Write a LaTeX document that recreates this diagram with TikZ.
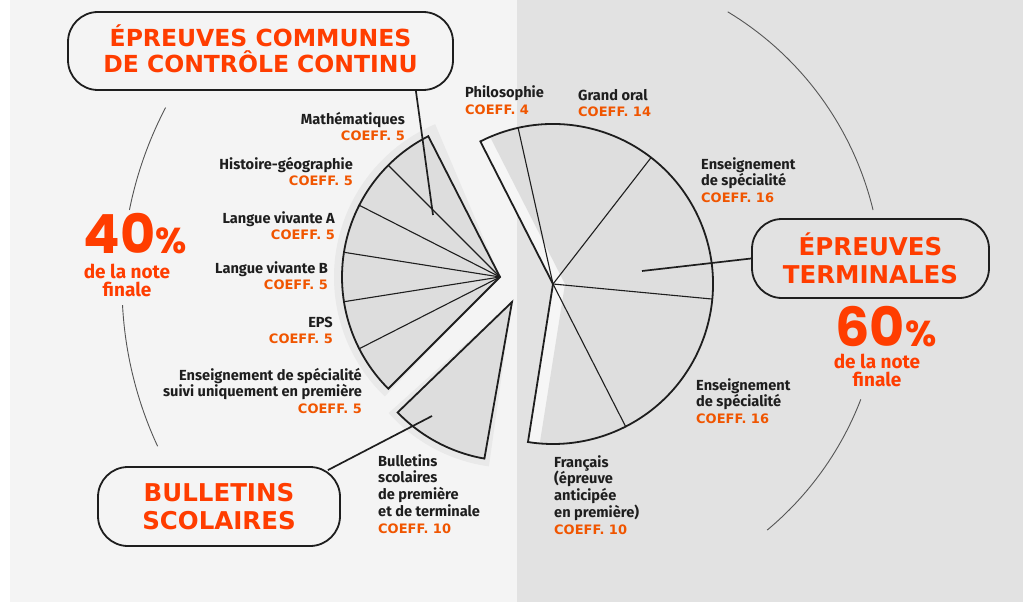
\documentclass[tikz,border=0pt]{standalone}
\usepackage{fontspec}
\setmainfont{Fira Sans}
\newfontfamily\titlefont{DejaVu Sans}
\newfontfamily\pctfont{Poppins}
\definecolor{leftbg}{HTML}{F4F4F4}
\definecolor{rightbg}{HTML}{E2E2E2}
\definecolor{piefill}{HTML}{DDDDDD}
\definecolor{pieshadow}{HTML}{E9E9E9}
\definecolor{rpiefill}{HTML}{DEDEDE}
\definecolor{rpieband}{HTML}{F6F6F6}
\definecolor{ink}{HTML}{1E1E1E}
\definecolor{hot}{HTML}{FF3D00}
\definecolor{coeffc}{HTML}{F05500}
\definecolor{arcgray}{HTML}{555555}
\newcommand\rlines[1]{\vtop{\halign{\hfil##\cr#1\crcr}}}
\newcommand\llines[1]{\vtop{\halign{##\hfil\cr#1\crcr}}}
\newcommand\clines[1]{\vtop{\halign{\hfil##\hfil\cr#1\crcr}}}
\newcommand\coef[1]{{\titlefont\bfseries\fontsize{13}{16.8}\selectfont\color{coeffc}#1}}
\begin{document}
\begin{tikzpicture}[x=1pt,y=-1pt,
  pill/.style={draw=ink, line width=1.8pt, rounded corners=30pt, align=center,
    text=hot, inner sep=0pt},
  titletext/.style={font=\titlefont\bfseries\fontsize{24.5}{27.5}\selectfont},
  lab/.style={font=\bfseries\fontsize{14.6}{16.8}\selectfont, text=ink, inner sep=0pt},
  outline/.style={draw=ink, line width=1.8pt, line join=miter},
  inner/.style={draw=ink, line width=1.1pt},
  conn/.style={draw=ink, line width=1.7pt},
  deco/.style={draw=arcgray, line width=0.9pt},
  pct/.style={font=\pctfont\bfseries\fontsize{54}{54}\selectfont, text=hot, inner sep=0pt, text depth=0pt},
  note/.style={font=\bfseries\fontsize{19}{18.8}\selectfont, text=hot, inner sep=0pt}]
\useasboundingbox (0,0) rectangle (1023,602);
% backgrounds
\fill[white] (0,0) rectangle (1023,602);
\fill[leftbg] (10,0) rectangle (517,602);
\fill[rightbg] (517,0) rectangle (1023,602);

% decorative arcs
\coordinate (C1) at (505,285);
\coordinate (C2) at (563,285);
\draw[deco] (C1) ++(-152.4:383) arc[start angle=-152.4, end angle=-168.7, radius=383];
\draw[deco] (C1) ++(-183:383) arc[start angle=-183, end angle=-204.9, radius=383];
\draw[deco] (C2) ++(-58.9:319) arc[start angle=-58.9, end angle=-13.6, radius=319];
\draw[deco] (C2) ++(21:319) arc[start angle=21, end angle=50.2, radius=319];

% left pie (controle continu)
\coordinate (L) at (500,277);
\fill[pieshadow] (L) -- ++(-113:166) arc[start angle=-113, end angle=-226, radius=166] -- cycle;
\fill[piefill] (L) -- ++(-117:158) arc[start angle=-117, end angle=-225, radius=158] -- cycle;
\foreach \a in {135,153,171,189,207} \draw[inner] (L) -- ++(-\a:158);
\draw[outline] (L) -- ++(-117:158) arc[start angle=-117, end angle=-225, radius=158] -- cycle;

% bulletins wedge
\coordinate (B) at (512,302);
\fill[pieshadow] (B) -- ++(-222:166) arc[start angle=-222, end angle=-262, radius=166] -- cycle;
\fill[piefill] (B) -- ++(-224:159) arc[start angle=-224, end angle=-260, radius=159] -- cycle;
\draw[outline] (B) -- ++(-224:159) arc[start angle=-224, end angle=-260, radius=159] -- cycle;

% right pie (epreuves terminales)
\coordinate (R) at (553,284);
\coordinate (Rs) at (565,284);
\fill[rpieband] (R) -- ++(-117:160) arc[start angle=-117, end angle=99, radius=160] -- cycle;
\begin{scope}
\clip (R) -- ++(-117:160) arc[start angle=-117, end angle=99, radius=160] -- cycle;
\fill[rpiefill] (Rs) -- ++(-117:175) arc[start angle=-117, end angle=99, radius=175] -- cycle;
\end{scope}
\foreach \a in {-102.6,-52.2,5.4,63} \draw[inner] (R) -- ++(\a:160);
\draw[outline] (R) -- ++(-117:160) arc[start angle=-117, end angle=99, radius=160] -- cycle;

% title boxes
\node[pill, titletext, font=\titlefont\bfseries\fontsize{23.5}{26.5}\selectfont,
  minimum width=385, minimum height=78, text depth=5pt] (tcc) at (260.5,51)
  {ÉPREUVES COMMUNES\\DE CONTRÔLE CONTINU};
\node[pill, titletext, minimum width=237, minimum height=79] (ter) at (870.5,258.5)
  {ÉPREUVES\\TERMINALES};
\node[pill, titletext, minimum width=242, minimum height=79] (bul) at (219,506.5)
  {BULLETINS\\SCOLAIRES};

% connectors
\coordinate (m1) at (433,215);
\coordinate (m2) at (642,271);
\coordinate (m3) at (432,416);
\draw[conn] ([xshift=-38pt]tcc.south east) -- (m1);
\draw[conn] (ter.west) -- (m2);
\draw[conn] ([shift={(-13,4)}]bul.north east) -- (m3);

% left labels
\node[lab, anchor=base east] (lmath) at (405,124) {\rlines{Mathématiques\cr\coef{COEFF. 5}}};
\node[lab, anchor=base east] (lhist) at (353,169) {\rlines{Histoire-géographie\cr\coef{COEFF. 5}}};
\node[lab, anchor=base east] (llva) at (335,223) {\rlines{Langue vivante A\cr\coef{COEFF. 5}}};
\node[lab, anchor=base east] (llvb) at (328,273) {\rlines{Langue vivante B\cr\coef{COEFF. 5}}};
\node[lab, anchor=base east] (leps) at (333,327) {\rlines{EPS\cr\coef{COEFF. 5}}};
\node[lab, anchor=base east] (lspe1) at (362,380) {\rlines{Enseignement de spécialité\cr suivi uniquement en première\cr\coef{COEFF. 5}}};

% right labels
\node[lab, anchor=base west] (lphilo) at (465,98) {\llines{Philosophie\cr\coef{COEFF. 4}}};
\node[lab, anchor=base west] (loral) at (578,100) {\llines{Grand oral\cr\coef{COEFF. 14}}};
\node[lab, anchor=base west] (lspe2) at (701,169) {\llines{Enseignement\cr de spécialité\cr\coef{COEFF. 16}}};
\node[lab, anchor=base west] (lspe3) at (696,390) {\llines{Enseignement\cr de spécialité\cr\coef{COEFF. 16}}};
\node[lab, anchor=base west] (lfr) at (554,467) {\llines{Français\cr (épreuve\cr anticipée\cr en première)\cr\coef{COEFF. 10}}};
\node[lab, anchor=base west] (lbul) at (378,466) {\llines{Bulletins\cr scolaires\cr de première\cr et de terminale\cr\coef{COEFF. 10}}};

% percentages
\node[pct, anchor=base] (p40) at (135.5,253) {40{\fontsize{36}{36}\selectfont\%}};
\node[note, anchor=base] (n40) at (127,278) {\clines{de la note\cr finale}};
\node[pct, anchor=base] (p60) at (886,346) {60{\fontsize{36}{36}\selectfont\%}};
\node[note, anchor=base] (n60) at (877,368) {\clines{de la note\cr finale}};
\end{tikzpicture}
\end{document}
